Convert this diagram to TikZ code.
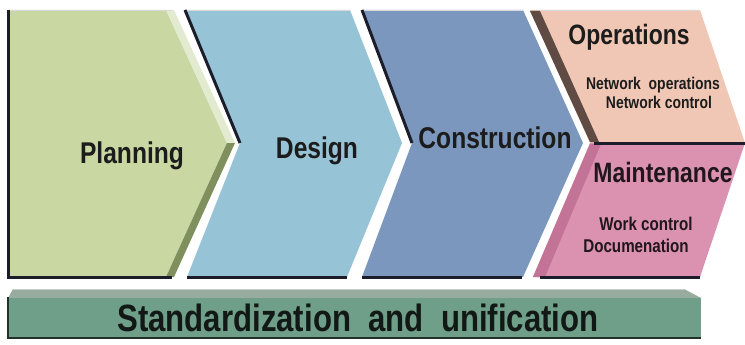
\documentclass[tikz,border=0pt]{standalone}
\usepackage{fontspec}
\setmainfont{Liberation Sans}
\usepackage{graphicx}
% narrow bold lettering
\newcommand{\nrw}[1]{\scalebox{0.82}[1]{#1}}
\definecolor{plan}{HTML}{C9D7A2}
\definecolor{planhi}{HTML}{E2EAD0}
\definecolor{planlo}{HTML}{7F8F5E}
\definecolor{des}{HTML}{96C4D6}
\definecolor{con}{HTML}{7C97BE}
\definecolor{ops}{HTML}{F0C7B4}
\definecolor{opsedge}{HTML}{5F4B43}
\definecolor{mnt}{HTML}{DA92B0}
\definecolor{mntedge}{HTML}{C27396}
\definecolor{bar}{HTML}{6F9F89}
\definecolor{bartop}{HTML}{97AB9F}
\definecolor{edgec}{HTML}{1B1E2A}
\definecolor{txt}{HTML}{1C1C1C}
\begin{document}
\begin{tikzpicture}[x=1pt,y=-1pt,
  edge/.style={draw=edgec, line width=3pt},
  hl/.style={draw=gray!30, line width=1pt},
  lbl/.style={inner sep=0pt, anchor=base, text=txt},
  big/.style={lbl, font=\fontsize{30}{36}\selectfont\bfseries},
  mid/.style={lbl, font=\fontsize{28}{34}\selectfont\bfseries},
  small/.style={lbl, font=\fontsize{17}{20}\selectfont\bfseries},
  smallb/.style={lbl, font=\fontsize{18.5}{22}\selectfont\bfseries},
  bartext/.style={lbl, font=\fontsize{38}{45}\selectfont\bfseries, text=black!85!bar}]
\useasboundingbox (0,0) rectangle (745,345);
\fill[white] (0,0) rectangle (745,345);

% Planning chevron with bevelled point
\fill[plan] (8,10) -- (166,10) -- (227,143) -- (166,277) -- (8,277) -- cycle;
\fill[planhi] (166,10) -- (174,10) -- (235,143) -- (227,143) -- cycle;
\fill[planlo] (227,143) -- (235,143) -- (174,277) -- (166,277) -- cycle;
\draw[hl] (9,10.5) -- (172,10.5);
\draw[edge] (8,10) -- (8,277) -- (172,277);

% Design chevron
\fill[des] (185,10) -- (350,10) -- (402,143) -- (347,277) -- (187,277) -- (240,143) -- cycle;
\draw[hl] (186,10.5) -- (350,10.5);
\draw[edge] (185,10) -- (240,143);
\draw[edge] (187,277) -- (347,277);

% Construction chevron
\fill[con] (362,10) -- (523,10) -- (583,143) -- (523,277) -- (362,277) -- (412,143) -- cycle;
\draw[hl] (363,10.5) -- (523,10.5);
\draw[edge] (362,10) -- (412,143);
\draw[edge] (362,277) -- (522,277);

% Operations (upper half of the last chevron)
\fill[ops] (530,10) -- (700,10) -- (745,143) -- (590,143) -- cycle;
\fill[opsedge] (530,11) -- (540,11) -- (599,142) -- (590,142) -- cycle;
\draw[hl] (540,10.5) -- (700,10.5);

% Maintenance (lower half of the last chevron)
\fill[mnt] (590,143) -- (745,143) -- (700,277) -- (533,277) -- cycle;
\fill[mntedge] (590,144) -- (601,144) -- (545,277) -- (533,277) -- cycle;
\draw[edge] (594,143) -- (745,143);
\draw[edge] (540,277) -- (700,277);

% Base bar
\fill[bartop] (13,289) -- (684,289) -- (701,298) -- (8,298) -- cycle;
\fill[bar] (8,298) rectangle (701,338);
\draw[draw=gray!40, line width=1pt] (13,289.5) -- (684,289.5);
\draw[draw=black!70!bar, line width=2pt] (8,297) -- (8,338) -- (701,338);

% Labels
\node[big] (planning) at (132,163) {\nrw{Planning}};
\node[big] (design) at (317,158) {\nrw{Design}};
\node[big] (construction) at (495,148) {\nrw{Construction}};
\node[mid] (operations) at (629,45) {\nrw{Operations}};
\node[small] (netops) at (653,90) {\nrw{Network\ \ operations}};
\node[small] (netctl) at (659,108) {\nrw{Network control}};
\node[mid, text=black!85!mnt] (maintenance) at (663,182) {\nrw{Maintenance}};
\node[smallb, text=black!85!mnt] (workctl) at (646,230) {\nrw{Work control}};
\node[smallb, text=black!85!mnt] (docs) at (636,252) {\nrw{Documenation}};
\node[bartext] (standard) at (358,331) {\nrw{Standardization\ \ and\ \ unification}};
\end{tikzpicture}
\end{document}
